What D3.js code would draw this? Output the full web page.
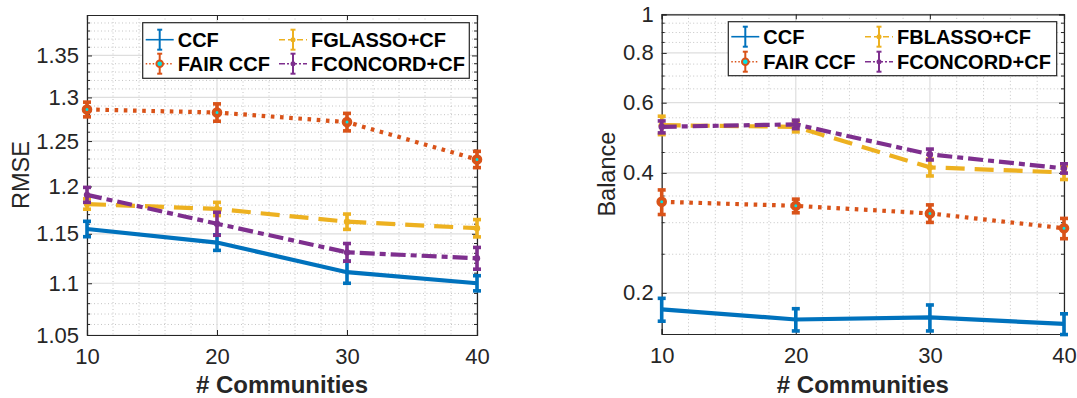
<!DOCTYPE html>
<html>
<head>
<meta charset="utf-8">
<script src="https://cdn.jsdelivr.net/npm/d3@7"></script>
<style>
  body { margin: 0; background: #fff; }
  svg text { font-family: "Liberation Sans", Arial, Helvetica, sans-serif; }
</style>
</head>
<body>
<svg id="chart" width="1077" height="398"></svg>
<script>
// x categories
var communities = [10, 20, 30, 40];

// legend names
var rmseNames = ["CCF", "FAIR CCF", "FGLASSO+CF", "FCONCORD+CF"];
var balanceNames = ["CCF", "FAIR CCF", "FBLASSO+CF", "FCONCORD+CF"];

// RMSE (left panel), value and error bar half width
var rmseCCF = [1.155, 1.141, 1.111, 1.100];
var rmseCCFErr = [0.008, 0.008, 0.011, 0.0075];
var rmseFairCCF = [1.286, 1.2825, 1.2715, 1.2295];
var rmseFairCCFErr = [0.0085, 0.010, 0.010, 0.009];
var rmseFglasso = [1.1812, 1.176, 1.1626, 1.1558];
var rmseFglassoErr = [0.0055, 0.007, 0.008, 0.009];
var rmseFconcord = [1.191, 1.1605, 1.131, 1.125];
var rmseFconcordErr = [0.008, 0.012, 0.009, 0.011];

// Balance (right panel)
var balCCF = [0.1818, 0.1715, 0.1735, 0.1672];
var balCCFErr = [0.012, 0.011, 0.013, 0.010];
var balFairCCF = [0.3385, 0.3307, 0.3165, 0.2905];
var balFairCCFErr = [0.024, 0.013, 0.016, 0.017];
var balFblasso = [0.527, 0.522, 0.413, 0.401];
var balFblassoErr = [0.028, 0.015, 0.02, 0.016];
var balFconcord = [0.522, 0.5295, 0.445, 0.4106];
var balFconcordErr = [0.018, 0.013, 0.014, 0.011];

// tick labels
var rmseTicks = [1.05, 1.1, 1.15, 1.2, 1.25, 1.3, 1.35];
var balanceTicks = [0.2, 0.4, 0.6, 0.8, 1];
var xTicks = [10, 20, 30, 40];

// MATLAB default colours and line styles
var styles = [
  { color: "#0072BD", dash: null, legDash: null, marker: "none" },
  { color: "#D95319", dash: "3.6 5.6", legDash: "1.5 2", marker: "circle" },
  { color: "#EDB120", dash: "19 10", legDash: "6 3", marker: "dot" },
  { color: "#7E2F8E", dash: "15 5 6 5", legDash: "6 2 2 2", marker: "dot" }
];

var svg = d3.select("#chart");
var axisColor = "#262626";

function drawPanel(p) {
  var g = svg.append("g");
  var x = d3.scaleLinear().domain([10, 40]).range([p.left, p.right]);
  var y = d3.scaleLog().domain(p.yDomain).range([p.bottom, p.top]);

  // minor grid (dotted)
  g.append("g").selectAll("line").data(p.yMinor).enter().append("line")
    .attr("x1", p.left).attr("x2", p.right)
    .attr("y1", d => y(d)).attr("y2", d => y(d))
    .attr("stroke", "#c4c4c4").attr("stroke-width", 1).attr("stroke-dasharray", "1 2.5");
  g.append("g").selectAll("line").data(p.xMinor).enter().append("line")
    .attr("x1", d => x(d)).attr("x2", d => x(d))
    .attr("y1", p.top).attr("y2", p.bottom)
    .attr("stroke", "#c4c4c4").attr("stroke-width", 1).attr("stroke-dasharray", "1 2.5");

  // major grid
  g.append("g").selectAll("line").data(p.yTicks).enter().append("line")
    .attr("x1", p.left).attr("x2", p.right)
    .attr("y1", d => y(d)).attr("y2", d => y(d))
    .attr("stroke", "#dedede").attr("stroke-width", 1.2);
  g.append("g").selectAll("line").data(xTicks).enter().append("line")
    .attr("x1", d => x(d)).attr("x2", d => x(d))
    .attr("y1", p.top).attr("y2", p.bottom)
    .attr("stroke", "#dedede").attr("stroke-width", 1.2);

  // axes (ticks inside, box on)
  var fmt = d => String(d);
  var left = g.append("g").attr("transform", `translate(${p.left},0)`)
    .call(d3.axisLeft(y).tickValues(p.yTicks).tickFormat(fmt).tickSize(-5).tickPadding(8));
  var rightAx = g.append("g").attr("transform", `translate(${p.right},0)`)
    .call(d3.axisRight(y).tickValues(p.yTicks).tickFormat("").tickSize(-5));
  var bottom = g.append("g").attr("transform", `translate(0,${p.bottom})`)
    .call(d3.axisBottom(x).tickValues(xTicks).tickFormat(fmt).tickSize(-5).tickPadding(13));
  var topAx = g.append("g").attr("transform", `translate(0,${p.top})`)
    .call(d3.axisTop(x).tickValues(xTicks).tickFormat("").tickSize(-5));
  [left, rightAx, bottom, topAx].forEach(a => {
    a.select(".domain").attr("stroke", axisColor).attr("stroke-width", 1.2);
    a.selectAll(".tick line").attr("stroke", axisColor);
    a.selectAll("text").attr("fill", axisColor).style("font-size", "22px");
  });
  // minor ticks on y
  [[p.left, 3], [p.right, -3]].forEach(s => {
    g.append("g").selectAll("line").data(p.yMinor).enter().append("line")
      .attr("x1", s[0]).attr("x2", s[0] + s[1])
      .attr("y1", d => y(d)).attr("y2", d => y(d))
      .attr("stroke", axisColor).attr("stroke-width", 1);
  });

  // data
  p.series.forEach((vals, i) => {
    var st = styles[i];
    var errs = p.errors[i];
    var pts = communities.map((c, j) => ({ c: c, v: vals[j], e: errs[j] }));
    var line = d3.line().x(d => x(d.c)).y(d => y(d.v));
    g.append("path").datum(pts)
      .attr("d", line)
      .attr("fill", "none")
      .attr("stroke", st.color)
      .attr("stroke-width", 4.2)
      .attr("stroke-dasharray", st.dash);
    var eb = g.append("g").selectAll("g").data(pts).enter().append("g");
    eb.append("line")
      .attr("x1", d => x(d.c)).attr("x2", d => x(d.c))
      .attr("y1", d => y(d.v - d.e)).attr("y2", d => y(d.v + d.e))
      .attr("stroke", st.color).attr("stroke-width", 3.6);
    eb.append("line")
      .attr("x1", d => x(d.c) - 4).attr("x2", d => x(d.c) + 4)
      .attr("y1", d => y(d.v - d.e)).attr("y2", d => y(d.v - d.e))
      .attr("stroke", st.color).attr("stroke-width", 3.6);
    eb.append("line")
      .attr("x1", d => x(d.c) - 4).attr("x2", d => x(d.c) + 4)
      .attr("y1", d => y(d.v + d.e)).attr("y2", d => y(d.v + d.e))
      .attr("stroke", st.color).attr("stroke-width", 3.6);
    if (st.marker === "circle") {
      eb.append("circle").attr("cx", d => x(d.c)).attr("cy", d => y(d.v))
        .attr("r", 3.4).attr("fill", "#00e5e5").attr("stroke", st.color).attr("stroke-width", 3.8);
    } else if (st.marker === "dot") {
      eb.append("circle").attr("cx", d => x(d.c)).attr("cy", d => y(d.v))
        .attr("r", 3.2).attr("fill", st.color);
    }
  });

  // axis labels
  g.append("text")
    .attr("x", (p.left + p.right) / 2).attr("y", 393)
    .attr("text-anchor", "middle")
    .style("font-size", "24px").style("font-weight", "bold")
    .attr("fill", axisColor)
    .text("# Communities");
  g.append("text")
    .attr("transform", `translate(${p.ylabelX},${(p.top + p.bottom) / 2}) rotate(-90)`)
    .attr("text-anchor", "middle")
    .style("font-size", "23.5px")
    .attr("fill", axisColor)
    .text(p.ylabel);

  // legend
  var L = p.legend;
  var lg = g.append("g");
  lg.append("rect")
    .attr("x", L.x).attr("y", L.y).attr("width", L.w).attr("height", L.h)
    .attr("fill", "#fff").attr("stroke", axisColor).attr("stroke-width", 1.2);
  p.names.forEach((name, i) => {
    var st = styles[i];
    var col = i < 2 ? 0 : 1;
    var row = i % 2;
    var sx = L.x + L.colX[col];
    var sy = L.y + L.rowY[row];
    var cx = sx + 14;
    lg.append("line").attr("x1", sx).attr("x2", sx + 28).attr("y1", sy).attr("y2", sy)
      .attr("stroke", st.color).attr("stroke-width", 1.6).attr("stroke-dasharray", st.legDash);
    lg.append("line").attr("x1", cx).attr("x2", cx).attr("y1", sy - 10).attr("y2", sy + 10)
      .attr("stroke", st.color).attr("stroke-width", 2);
    [-10, 10].forEach(o => {
      lg.append("line").attr("x1", cx - 2.5).attr("x2", cx + 2.5).attr("y1", sy + o).attr("y2", sy + o)
        .attr("stroke", st.color).attr("stroke-width", 2);
    });
    if (st.marker === "circle") {
      lg.append("circle").attr("cx", cx).attr("cy", sy).attr("r", 3.3)
        .attr("fill", "#00e5e5").attr("stroke", st.color).attr("stroke-width", 2);
    } else if (st.marker === "dot") {
      lg.append("circle").attr("cx", cx).attr("cy", sy).attr("r", 2.5).attr("fill", st.color);
    }
    lg.append("text").attr("x", sx + 32).attr("y", sy + 7)
      .style("font-size", "20px").style("font-weight", "bold").attr("fill", "#000")
      .text(name);
  });
}

drawPanel({
  left: 87, right: 477, top: 15, bottom: 335,
  yDomain: [1.05, 1.4],
  yTicks: rmseTicks,
  yMinor: d3.range(106, 140).filter(v => v % 5 !== 0).map(v => v / 100),
  xMinor: d3.range(12, 40, 2).filter(v => v % 10 !== 0),
  ylabel: "RMSE", ylabelX: 29,
  names: rmseNames,
  series: [rmseCCF, rmseFairCCF, rmseFglasso, rmseFconcord],
  errors: [rmseCCFErr, rmseFairCCFErr, rmseFglassoErr, rmseFconcordErr],
  legend: { x: 142.7, y: 22.7, w: 326.6, h: 55.6, colX: [3, 136.3], rowY: [17, 41] }
});

drawPanel({
  left: 661.7, right: 1064, top: 14.3, bottom: 334,
  yDomain: [0.1577, 1],
  yTicks: balanceTicks,
  yMinor: d3.range(5, 20).filter(v => v % 4 !== 0).map(v => v * 0.05),
  xMinor: d3.range(12, 40, 2).filter(v => v % 10 !== 0),
  ylabel: "Balance", ylabelX: 615,
  names: balanceNames,
  series: [balCCF, balFairCCF, balFblasso, balFconcord],
  errors: [balCCFErr, balFairCCFErr, balFblassoErr, balFconcordErr],
  legend: { x: 728.3, y: 21.7, w: 328.4, h: 54, colX: [3, 136.7], rowY: [15, 40] }
});
</script>
</body>
</html>
